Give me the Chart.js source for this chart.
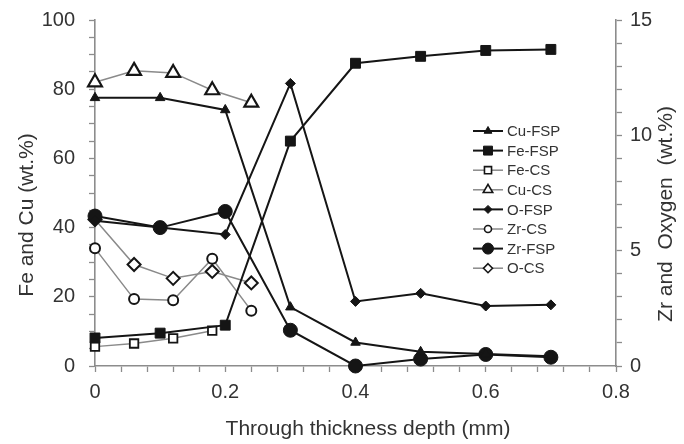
<!DOCTYPE html>
<html><head><meta charset="utf-8">
<script src="https://cdn.jsdelivr.net/npm/chart.js@4.4.1/dist/chart.umd.min.js"></script>
<style>html,body{margin:0;padding:0;background:#fff;}#wrap{width:684px;height:444px;}</style>
</head><body><div id="wrap"><canvas id="c" width="684" height="444"></canvas></div>
<script>
// ---- data ----
const depthFSP = [0, 0.1, 0.2, 0.3, 0.4, 0.5, 0.6, 0.7];
const depthCS = [0, 0.06, 0.12, 0.18, 0.24];
const depthFeCS = [0, 0.06, 0.12, 0.18];

const cuFSP = [77.5, 77.5, 74, 17, 6.8, 4.1, 3.5, 2.8];
const feFSP = [8.1, 9.5, 11.8, 65, 87.5, 89.5, 91.2, 91.5];
const feCS = [5.6, 6.5, 8, 10.2];
const cuCS = [82, 85.3, 84.7, 79.7, 76.1];
const oFSP = [6.3, 6.0, 5.7, 12.25, 2.8, 3.15, 2.6, 2.65];
const zrCS = [5.1, 2.9, 2.85, 4.65, 2.4];
const zrFSP = [6.5, 6.0, 6.7, 1.55, 0, 0.3, 0.5, 0.38];
const oCS = [6.35, 4.4, 3.8, 4.1, 3.6];

const seriesLabels = ['Cu-FSP', 'Fe-FSP', 'Fe-CS', 'Cu-CS', 'O-FSP', 'Zr-CS', 'Zr-FSP', 'O-CS'];
const leftTickLabels = [0, 20, 40, 60, 80, 100];
const rightTickLabels = [0, 5, 10, 15];
const xTickLabels = [0, 0.2, 0.4, 0.6, 0.8];
const xTitle = 'Through thickness depth (mm)';
const leftTitle = 'Fe and Cu (wt.%)';
const rightTitle = 'Zr and  Oxygen  (wt.%)';

// ---- styling ----
const FONT = "'Liberation Sans', Arial, sans-serif";
const BLACK = '#151515';
const GREY = '#8a8a8a';
const AXIS = '#8c8c8c';
const TEXT = '#333333';

function pts(xs, ys) { return xs.map((x, i) => ({x: x, y: ys[i]})); }

const styles = [
  {line: BLACK, lw: 2, ps: 'triangle', r: 5.5, fill: BLACK, bw: 1, lr: 4.5},
  {line: BLACK, lw: 2, ps: 'rect', r: 7, fill: BLACK, bw: 1, lr: 6.3},
  {line: GREY, lw: 1.5, ps: 'rect', r: 6, fill: '#fff', bw: 1.8, lr: 5},
  {line: GREY, lw: 1.5, ps: 'triangle', r: 8, fill: '#fff', bw: 2.2, lr: 5.5},
  {line: BLACK, lw: 2, ps: 'rectRot', r: 5, fill: BLACK, bw: 1, lr: 4},
  {line: GREY, lw: 1.5, ps: 'circle', r: 5, fill: '#fff', bw: 2, lr: 3.5},
  {line: BLACK, lw: 2, ps: 'circle', r: 7, fill: BLACK, bw: 1, lr: 5.5},
  {line: GREY, lw: 1.5, ps: 'rectRot', r: 6.5, fill: '#fff', bw: 2, lr: 4.5}
];
const seriesData = [
  pts(depthFSP, cuFSP), pts(depthFSP, feFSP), pts(depthFeCS, feCS), pts(depthCS, cuCS),
  pts(depthFSP, oFSP), pts(depthCS, zrCS), pts(depthFSP, zrFSP), pts(depthCS, oCS)
];
const axisOf = ['y', 'y', 'y', 'y', 'y1', 'y1', 'y1', 'y1'];

const datasets = seriesLabels.map((lab, i) => {
  const s = styles[i];
  return {
    label: lab,
    data: seriesData[i],
    yAxisID: axisOf[i],
    borderColor: s.line,
    borderWidth: s.lw,
    pointStyle: s.ps,
    pointRadius: s.r,
    pointHoverRadius: s.r,
    pointBackgroundColor: s.fill,
    pointBorderColor: BLACK,
    pointBorderWidth: s.bw,
    tension: 0,
    fill: false,
    clip: false
  };
});

function near(v, arr) { return arr.some(a => Math.abs(a - v) < 1e-6); }

function drawMarker(ctx, style, r, x, y) {
  ctx.beginPath();
  if (style === 'circle') {
    ctx.arc(x, y, r, 0, Math.PI * 2);
  } else if (style === 'rect') {
    const h = r * Math.SQRT1_2;
    ctx.rect(x - h, y - h, 2 * h, 2 * h);
  } else if (style === 'rectRot') {
    ctx.moveTo(x, y - r); ctx.lineTo(x + r, y); ctx.lineTo(x, y + r); ctx.lineTo(x - r, y); ctx.closePath();
  } else if (style === 'triangle') {
    for (let k = 0; k < 3; k++) {
      const a = k * 2 * Math.PI / 3;
      const px = x + Math.sin(a) * r, py = y - Math.cos(a) * r;
      if (k === 0) ctx.moveTo(px, py); else ctx.lineTo(px, py);
    }
    ctx.closePath();
  }
  ctx.fill();
  ctx.stroke();
}

const customPlugin = {
  id: 'custom',
  afterDraw(chart) {
    const ctx = chart.ctx;
    ctx.save();
    // legend
    const lx0 = 473, lx1 = 503, tx = 507, ly0 = 131, dy = 19.6;
    ctx.font = '15px ' + FONT;
    ctx.textBaseline = 'middle';
    ctx.textAlign = 'left';
    chart.data.datasets.forEach((ds, i) => {
      const s = styles[i];
      const y = ly0 + i * dy;
      ctx.strokeStyle = s.line;
      ctx.lineWidth = s.lw;
      ctx.beginPath(); ctx.moveTo(lx0, y); ctx.lineTo(lx1, y); ctx.stroke();
      ctx.fillStyle = s.fill;
      ctx.strokeStyle = BLACK;
      ctx.lineWidth = s.fill === '#fff' ? 1.6 : 1;
      drawMarker(ctx, s.ps, s.lr, (lx0 + lx1) / 2, y);
      ctx.fillStyle = TEXT;
      ctx.fillText(ds.label, tx, y + 1);
    });
    // axis titles
    ctx.fillStyle = TEXT;
    ctx.font = '21px ' + FONT;
    ctx.textAlign = 'center';
    ctx.textBaseline = 'middle';
    ctx.fillText(xTitle, 368, 429);
    ctx.save();
    ctx.translate(27, 215);
    ctx.rotate(-Math.PI / 2);
    ctx.fillText(leftTitle, 0, 0);
    ctx.restore();
    ctx.save();
    ctx.translate(666, 214);
    ctx.rotate(-Math.PI / 2);
    ctx.fillText(rightTitle, 0, 0);
    ctx.restore();
    ctx.restore();
  }
};

const gridCommon = {display: true, drawOnChartArea: false, drawTicks: true, color: AXIS, tickLength: 6, tickWidth: 1.3};
const borderCommon = {display: true, color: AXIS, width: 1.6};
const tickFont = {family: FONT, size: 20};

function fitV(w) {
  return function (s) { s.width = w; s.paddingTop = 0; s.paddingBottom = 0; };
}

new Chart(document.getElementById('c'), {
  type: 'line',
  data: {datasets: datasets},
  options: {
    responsive: false,
    animation: false,
    devicePixelRatio: 1,
    layout: {padding: {top: 20, left: 0, right: 0, bottom: 0}},
    plugins: {legend: {display: false}, tooltip: {enabled: false}, title: {display: false}},
    scales: {
      x: {
        type: 'linear', min: 0, max: 0.8,
        grid: gridCommon, border: borderCommon,
        ticks: {stepSize: 0.04, autoSkip: false, maxRotation: 0, padding: 8, color: TEXT, font: tickFont,
          callback: v => near(v, xTickLabels) ? String(Math.round(v * 10) / 10) : ''},
        afterFit(s) { s.height = 78; s.paddingLeft = 0; s.paddingRight = 0; }
      },
      y: {
        type: 'linear', position: 'left', min: 0, max: 100,
        grid: gridCommon, border: borderCommon,
        ticks: {stepSize: 5, autoSkip: false, padding: 14, color: TEXT, font: tickFont,
          callback: v => near(v, leftTickLabels) ? String(v) : ''},
        afterFit: fitV(95)
      },
      y1: {
        type: 'linear', position: 'right', min: 0, max: 15,
        grid: gridCommon, border: borderCommon,
        ticks: {stepSize: 1, autoSkip: false, padding: 8, color: TEXT, font: tickFont,
          callback: v => near(v, rightTickLabels) ? String(v) : ''},
        afterFit: fitV(68)
      }
    }
  },
  plugins: [customPlugin]
});
</script>
</body></html>
